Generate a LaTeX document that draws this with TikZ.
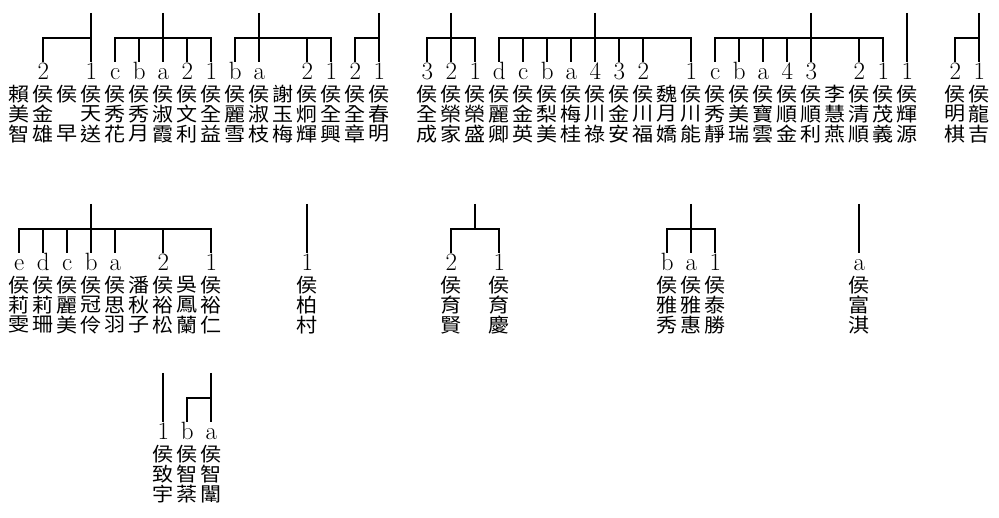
\documentclass[tikz,border=0pt]{standalone}
\usepackage{fontspec}
\newfontfamily\cjk[FakeStretch=1.08]{Noto Sans CJK TC}
\tikzset{
  ln/.style={line width=2pt},
  lbl/.style={font=\fontsize{25}{25}\selectfont, anchor=base, inner xsep=0pt, inner ysep=2pt, text height=16pt, text depth=0pt},
  chr/.style={font=\cjk\fontsize{19.5}{20}\selectfont, anchor=center, inner sep=0pt},
}
% #1 row id, #2 row top, #3 column, #4 label, #5-#7 characters
\newcommand\gperson[7]{%
  \node[lbl] (l#1-#3) at ({19.3+24*#3},{#2+67}) {#4};
  \node[chr] (n#1-#3a) at ({19.3+24*#3},{#2+81}) {#5};
  \node[chr] (n#1-#3b) at ({19.3+24*#3},{#2+101}) {#6};
  \node[chr] (n#1-#3c) at ({19.3+24*#3},{#2+121}) {#7};
}
\newcommand\gspouse[6]{%
  \node[chr] (n#1-#3a) at ({19.3+24*#3},{#2+81}) {#4};
  \node[chr] (n#1-#3b) at ({19.3+24*#3},{#2+101}) {#5};
  \node[chr] (n#1-#3c) at ({19.3+24*#3},{#2+121}) {#6};
}
% #1 row id, #2 top, #3 parent column, #4 first child, #5 last child, #6 other children
\newcommand\gkin[6]{%
  \coordinate (t#1-#3) at ({19.3+24*#3},#2);
  \draw[ln] (l#1-#4.north) -- ++(0,-24) -| (l#1-#5.north);
  \draw[ln] (t#1-#3) -- ++(0,25);
  \foreach \cc in {#6}{\draw[ln] (l#1-\cc.north) -- ++(0,-24);}
}
\newcommand\gsolo[3]{%
  \coordinate (t#1-#3) at ({19.3+24*#3},#2);
  \draw[ln] (t#1-#3) -- (l#1-#3.north);
}
\begin{document}
\begin{tikzpicture}[x=1pt,y=-1pt]
\useasboundingbox (0,0) rectangle (999,518);
% ---------- row 1 ----------
\gspouse{1}{13}{0}{賴}{美}{智}
\gperson{1}{13}{1}{2}{侯}{金}{雄}
\node[chr] (n1-2a) at ({19.3+24*2},{13+81}) {侯};
\node[chr] (n1-2c) at ({19.3+24*2},{13+121}) {早};
\gperson{1}{13}{3}{1}{侯}{天}{送}
\gperson{1}{13}{4}{c}{侯}{秀}{花}
\gperson{1}{13}{5}{b}{侯}{秀}{月}
\gperson{1}{13}{6}{a}{侯}{淑}{霞}
\gperson{1}{13}{7}{2}{侯}{文}{利}
\gperson{1}{13}{8}{1}{侯}{全}{益}
\gperson{1}{13}{9}{b}{侯}{麗}{雪}
\gperson{1}{13}{10}{a}{侯}{淑}{枝}
\gspouse{1}{13}{11}{謝}{玉}{梅}
\gperson{1}{13}{12}{2}{侯}{炯}{輝}
\gperson{1}{13}{13}{1}{侯}{全}{興}
\gperson{1}{13}{14}{2}{侯}{全}{章}
\gperson{1}{13}{15}{1}{侯}{春}{明}
\gperson{1}{13}{17}{3}{侯}{全}{成}
\gperson{1}{13}{18}{2}{侯}{榮}{家}
\gperson{1}{13}{19}{1}{侯}{榮}{盛}
\gperson{1}{13}{20}{d}{侯}{麗}{卿}
\gperson{1}{13}{21}{c}{侯}{金}{英}
\gperson{1}{13}{22}{b}{侯}{梨}{美}
\gperson{1}{13}{23}{a}{侯}{梅}{桂}
\gperson{1}{13}{24}{4}{侯}{川}{祿}
\gperson{1}{13}{25}{3}{侯}{金}{安}
\gperson{1}{13}{26}{2}{侯}{川}{福}
\gspouse{1}{13}{27}{魏}{月}{嬌}
\gperson{1}{13}{28}{1}{侯}{川}{能}
\gperson{1}{13}{29}{c}{侯}{秀}{靜}
\gperson{1}{13}{30}{b}{侯}{美}{瑞}
\gperson{1}{13}{31}{a}{侯}{寶}{雲}
\gperson{1}{13}{32}{4}{侯}{順}{金}
\gperson{1}{13}{33}{3}{侯}{順}{利}
\gspouse{1}{13}{34}{李}{慧}{燕}
\gperson{1}{13}{35}{2}{侯}{清}{順}
\gperson{1}{13}{36}{1}{侯}{茂}{義}
\gperson{1}{13}{37}{1}{侯}{輝}{源}
\gperson{1}{13}{39}{2}{侯}{明}{棋}
\gperson{1}{13}{40}{1}{侯}{龍}{吉}
\gkin{1}{13}{3}{1}{3}{1}
\gkin{1}{13}{6}{4}{8}{5,6,7}
\gkin{1}{13}{10}{9}{13}{10,12}
\gkin{1}{13}{15}{14}{15}{14}
\gkin{1}{13}{18}{17}{19}{18}
\gkin{1}{13}{24}{20}{28}{21,22,23,24,25,26}
\gkin{1}{13}{33}{29}{36}{30,31,32,33,35}
\gsolo{1}{13}{37}
\gkin{1}{13}{40}{39}{40}{39}
% ---------- row 2 ----------
\gperson{2}{204}{0}{e}{侯}{莉}{雯}
\gperson{2}{204}{1}{d}{侯}{莉}{珊}
\gperson{2}{204}{2}{c}{侯}{麗}{美}
\gperson{2}{204}{3}{b}{侯}{冠}{伶}
\gperson{2}{204}{4}{a}{侯}{思}{羽}
\gspouse{2}{204}{5}{潘}{秋}{子}
\gperson{2}{204}{6}{2}{侯}{裕}{松}
\gspouse{2}{204}{7}{吳}{鳳}{蘭}
\gperson{2}{204}{8}{1}{侯}{裕}{仁}
\gperson{2}{204}{12}{1}{侯}{柏}{村}
\gperson{2}{204}{18}{2}{侯}{育}{賢}
\gperson{2}{204}{20}{1}{侯}{育}{慶}
\gperson{2}{204}{27}{b}{侯}{雅}{秀}
\gperson{2}{204}{28}{a}{侯}{雅}{惠}
\gperson{2}{204}{29}{1}{侯}{泰}{勝}
\gperson{2}{204}{35}{a}{侯}{富}{淇}
\gkin{2}{204}{3}{0}{8}{1,2,3,4,6}
\gsolo{2}{204}{12}
\gkin{2}{204}{19}{18}{20}{18}
\gkin{2}{204}{28}{27}{29}{28}
\gsolo{2}{204}{35}
% ---------- row 3 ----------
\gperson{3}{373}{6}{1}{侯}{致}{宇}
\gperson{3}{373}{7}{b}{侯}{智}{棻}
\gperson{3}{373}{8}{a}{侯}{智}{闈}
\gsolo{3}{373}{6}
\gkin{3}{373}{8}{7}{8}{7}
\end{tikzpicture}
\end{document}
